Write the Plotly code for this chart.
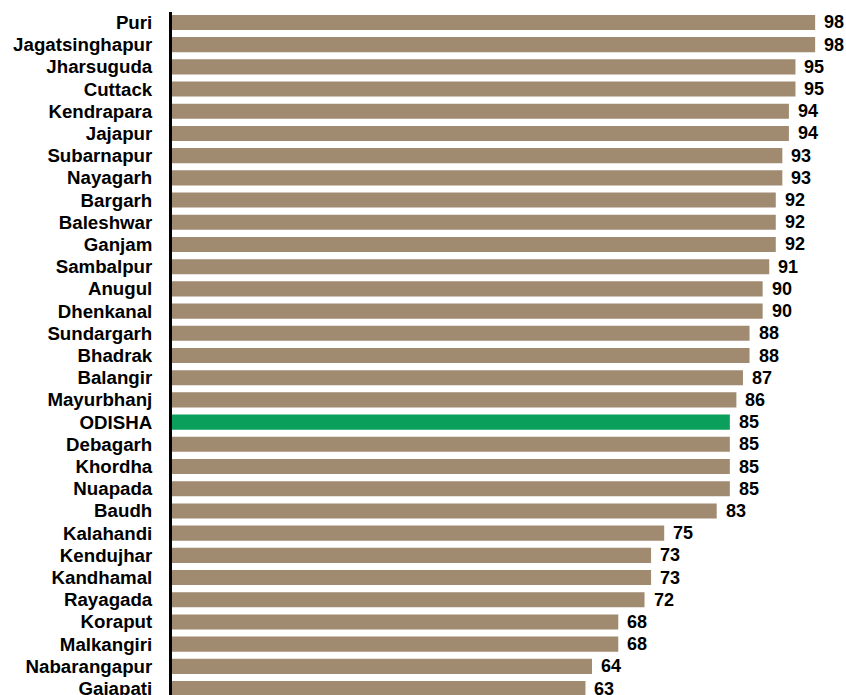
import plotly.graph_objects as go

districts = ["Puri", "Jagatsinghapur", "Jharsuguda", "Cuttack", "Kendrapara", "Jajapur",
             "Subarnapur", "Nayagarh", "Bargarh", "Baleshwar", "Ganjam", "Sambalpur",
             "Anugul", "Dhenkanal", "Sundargarh", "Bhadrak", "Balangir", "Mayurbhanj",
             "ODISHA", "Debagarh", "Khordha", "Nuapada", "Baudh", "Kalahandi", "Kendujhar",
             "Kandhamal", "Rayagada", "Koraput", "Malkangiri", "Nabarangapur", "Gajapati"]
values = [98, 98, 95, 95, 94, 94, 93, 93, 92, 92, 92, 91, 90, 90, 88, 88, 87, 86,
          85, 85, 85, 85, 83, 75, 73, 73, 72, 68, 68, 64, 63]

BROWN = "#A08A70"
GREEN = "#0A9F5A"
colors = [GREEN if d == "ODISHA" else BROWN for d in districts]
FONT = "Liberation Sans, Arial, sans-serif"

fig = go.Figure(go.Bar(
    x=values, y=districts, orientation="h",
    marker=dict(color=colors, line=dict(width=0)),
    hoverinfo="x+y",
))

for d, v in zip(districts, values):
    fig.add_annotation(x=v, y=d, text=str(v), showarrow=False, xanchor="left",
                       yanchor="middle", xshift=7,
                       font=dict(family=FONT, size=18, color="black", weight="bold"))

fig.update_layout(
    width=846, height=695,
    margin=dict(l=172, r=0, t=12, b=0, autoexpand=False),
    paper_bgcolor="white", plot_bgcolor="white",
    bargap=0.32,
    showlegend=False,
    font=dict(family=FONT, size=14, color="black"),
)
fig.update_xaxes(range=[0, 102.7], showgrid=False, zeroline=False, showticklabels=False,
                 showline=False, ticks="", automargin=False)
fig.update_yaxes(range=[30.29, -0.47], showgrid=False, zeroline=False, automargin=False,
                 showline=True, linecolor="black", linewidth=3, ticks="",
                 ticklabelstandoff=13,
                 tickfont=dict(family=FONT, size=18.7, color="black", weight="bold"))

fig.write_html("out.html", config={"displayModeBar": False},
               post_script="document.body.style.margin='0';document.body.style.overflow='hidden';")
